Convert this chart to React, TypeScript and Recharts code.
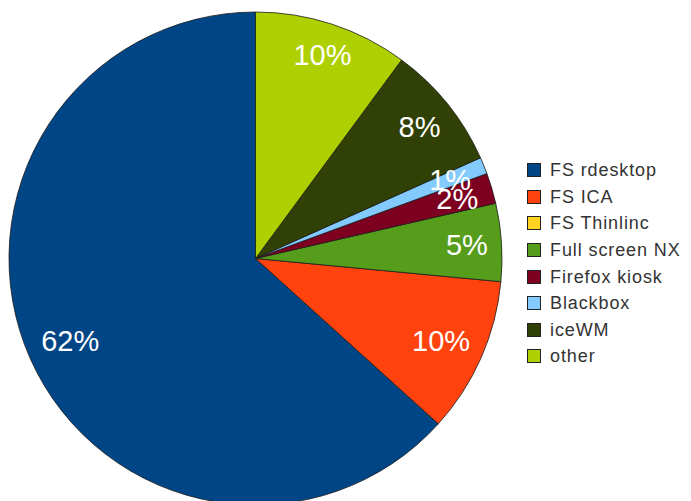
import { PieChart, Pie, Cell, Legend } from "recharts"

// legend order (drawn counter-clockwise from 12 o'clock)
const names = [
  "FS rdesktop",
  "FS ICA",
  "FS Thinlinc",
  "Full screen NX",
  "Firefox kiosk",
  "Blackbox",
  "iceWM",
  "other",
]
const shares = [63.3, 10.2, 0, 5.1, 2.0, 1.1, 8.2, 10.1]
const shareLabels = ["62%", "10%", "", "5%", "2%", "1%", "8%", "10%"]
const colors = [
  "#004586",
  "#ff420e",
  "#ffd320",
  "#579d1c",
  "#7e0021",
  "#83caff",
  "#314004",
  "#aecf00",
]

const data = names.map((name, i) => ({ name, value: shares[i], label: shareLabels[i] }))

const FONT = "'Liberation Sans', Arial, sans-serif"
const RAD = Math.PI / 180
const LABEL_SIZE = 29

function SliceLabel(props: any) {
  const { cx, cy, midAngle, outerRadius, index } = props
  const text = shareLabels[index]
  if (!text) return null
  const digits = text.length - 1
  const halfW = (LABEL_SIZE * (0.556 * digits + 0.889)) / 2
  const halfH = (LABEL_SIZE * 0.716) / 2
  const dx = Math.cos(-midAngle * RAD)
  const dy = Math.sin(-midAngle * RAD)
  // keep the text box just inside the rim
  const d = outerRadius - 13 - (halfW * Math.abs(dx) + halfH * Math.abs(dy))
  const x = cx + d * dx
  const y = cy + d * dy
  return (
    <text
      x={x}
      y={y + halfH}
      fill="#fff"
      textAnchor="middle"
      fontFamily={FONT}
      fontSize={LABEL_SIZE}
    >
      {text}
    </text>
  )
}

function SideLegend() {
  return (
    <div style={{ fontFamily: FONT, fontSize: 18, color: "#333", letterSpacing: 0.9 }}>
      {names.map((n, i) => (
        <div key={n} style={{ display: "flex", alignItems: "center", height: 26.6 }}>
          <span
            style={{
              width: 12,
              height: 12,
              background: colors[i],
              border: "1px solid #222",
              marginRight: 9,
              flexShrink: 0,
            }}
          />
          <span style={{ lineHeight: "18px" }}>{n}</span>
        </div>
      ))}
    </div>
  )
}

export default function App() {
  return (
    <div style={{ width: 691, height: 501, background: "#fff", overflow: "hidden" }}>
      <style>{`body{margin:0}`}</style>
      <PieChart width={691} height={501} margin={{ top: 0, right: 0, bottom: 0, left: 0 }}>
        <Pie
          data={data}
          dataKey="value"
          nameKey="name"
          cx={255.5}
          cy={258.5}
          outerRadius={246.5}
          startAngle={90}
          endAngle={450}
          stroke="#1a1a1a"
          strokeWidth={0.8}
          label={SliceLabel}
          labelLine={false}
          isAnimationActive={false}
        >
          {data.map((d, i) => (
            <Cell key={d.name} fill={colors[i]} />
          ))}
        </Pie>
        <Legend
          content={() => <SideLegend />}
          wrapperStyle={{ left: 527, top: 157, width: 164 }}
        />
      </PieChart>
    </div>
  )
}
